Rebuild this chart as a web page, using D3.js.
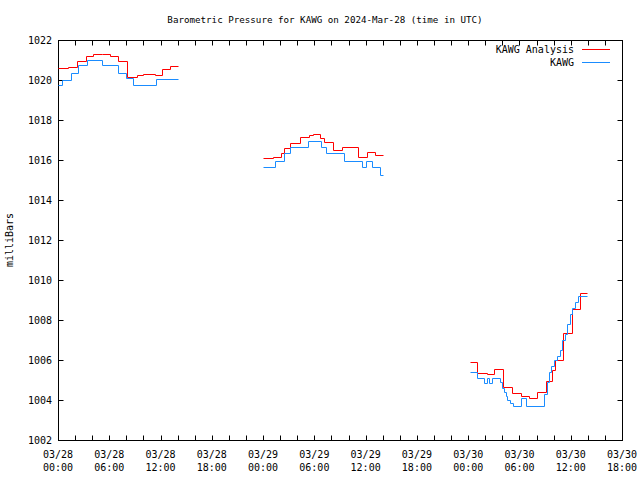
<!DOCTYPE html>
<html>
<head>
<meta charset="utf-8">
<script src="https://cdn.jsdelivr.net/npm/d3@7"></script>
<style>
  body { margin: 0; background: #fff; }
  text { font-family: "DejaVu Sans Mono", monospace; font-size: 10px; fill: #000; }
</style>
</head>
<body>
<div id="container"></div>
<script>
// hours since 03/28 00:00 UTC, pressure in mb
const analysisSegs = [
  [[0,1020.6],[1.2,1020.65],[2.2,1020.95],[3.3,1021.2],[4.1,1021.3],[5.1,1021.28],[6.1,1021.2],[7,1020.95],
   [8.1,1020.15],[9.2,1020.23],[10,1020.3],[11.4,1020.27],[12.2,1020.55],[13.1,1020.7],[14,1020.7]],
  [[24,1016.08],[25.2,1016.17],[26.1,1016.37],[26.5,1016.58],[27.2,1016.83],[28.3,1017.17],[29.4,1017.25],[29.8,1017.28],
   [30.7,1017.12],[31.1,1016.92],[32.2,1016.5],[33.2,1016.63],[35.1,1016.13],[36.2,1016.38],[37.1,1016.25],[38,1016.25]],
  [[48.2,1005.9],[49.0,1005.35],[50.2,1005.3],[51.0,1005.55],[52.1,1004.65],[53.1,1004.35],[54.2,1004.2],[55.1,1004.1],
   [56.1,1004.4],[57.1,1004.95],[57.8,1005.5],[58.2,1006.0],[59.1,1007.35],[60.2,1008.55],[61.1,1009.35],[61.9,1009.35]]
];
const observedSegs = [
  [[0,1019.75],[0.5,1020.0],[1.5,1020.35],[2.3,1020.75],[3.4,1021.0],[5.2,1020.75],[7.0,1020.35],[8.0,1020.1],
   [8.8,1019.75],[11.5,1020.05],[14,1020.05]],
  [[24,1015.63],[25.4,1015.95],[26.4,1016.33],[27.2,1016.63],[29.3,1016.95],[30.8,1016.63],[31.4,1016.33],[33.5,1015.95],
   [35.6,1015.67],[36.0,1015.95],[36.8,1015.63],[37.7,1015.25],[38,1015.25]],
  [[48.2,1005.38],[49.0,1005.08],[49.85,1004.85],[50.2,1005.1],[50.4,1004.85],[50.8,1005.08],[51.7,1004.9],[51.9,1004.6],
   [52.2,1004.4],[52.4,1004.2],[52.6,1004.0],[52.9,1003.85],[53.2,1003.7],[54.2,1004.08],[54.8,1003.7],[56.9,1004.3],
   [57.2,1004.9],[57.4,1005.4],[57.7,1005.7],[58.0,1006.0],[58.4,1006.2],[58.8,1006.5],[59.0,1007.0],[59.3,1007.3],
   [59.6,1007.8],[59.9,1008.3],[60.2,1008.6],[60.5,1008.9],[60.8,1009.2],[61.9,1009.2]]
];
const xTickHours = [0, 6, 12, 18, 24, 30, 36, 42, 48, 54, 60, 66];
const xTickDates = ['03/28','03/28','03/28','03/28','03/29','03/29','03/29','03/29','03/30','03/30','03/30','03/30'];
const xTickTimes = ['00:00','06:00','12:00','18:00','00:00','06:00','12:00','18:00','00:00','06:00','12:00','18:00'];
const yTicks = [1002, 1004, 1006, 1008, 1010, 1012, 1014, 1016, 1018, 1020, 1022];
const seriesNames = ['KAWG Analysis', 'KAWG'];
const seriesColors = ['#ff0000', '#1a8cff'];

const width = 640, height = 480;
const margin = {top: 40, right: 18, bottom: 40, left: 58};

const svg = d3.select('#container').append('svg')
  .attr('width', width).attr('height', height);

const x = d3.scaleLinear().domain([0, 66]).range([margin.left, width - margin.right]);
const y = d3.scaleLinear().domain([1002, 1022]).range([height - margin.bottom, margin.top]);
// snap to pixel centres so 1px lines stay solid
const px = v => Math.round(v) + 0.5;

// ticks (inward, mirrored)
const tickLen = 5;
const minorHours = d3.range(0, 67, 2);
const tg = svg.append('g').attr('stroke', '#000');
minorHours.forEach(h => {
  tg.append('line').attr('x1', px(x(h))).attr('x2', px(x(h))).attr('y1', px(y(1002))).attr('y2', px(y(1002)) - tickLen);
  tg.append('line').attr('x1', px(x(h))).attr('x2', px(x(h))).attr('y1', px(y(1022))).attr('y2', px(y(1022)) + tickLen);
});
yTicks.forEach(v => {
  tg.append('line').attr('x1', px(x(0))).attr('x2', px(x(0)) + tickLen).attr('y1', px(y(v))).attr('y2', px(y(v)));
  tg.append('line').attr('x1', px(x(66))).attr('x2', px(x(66)) - tickLen).attr('y1', px(y(v))).attr('y2', px(y(v)));
});

// frame
svg.append('rect')
  .attr('x', px(x(0))).attr('y', px(y(1022)))
  .attr('width', Math.round(x(66) - x(0))).attr('height', Math.round(y(1002) - y(1022)))
  .attr('fill', 'none').attr('stroke', '#000');

// y labels
svg.append('g').selectAll('text').data(yTicks).enter().append('text')
  .attr('x', x(0) - 6).attr('y', d => y(d)).attr('dy', '0.35em')
  .attr('text-anchor', 'end').text(d => d);

// x labels
xTickHours.forEach((h, i) => {
  svg.append('text').attr('x', x(h)).attr('y', 458).attr('text-anchor', 'middle').text(xTickDates[i]);
  svg.append('text').attr('x', x(h)).attr('y', 471).attr('text-anchor', 'middle').text(xTickTimes[i]);
});

// titles
svg.append('text').attr('x', 325).attr('y', 23).attr('text-anchor', 'middle')
  .style('font-size', '9.2px')
  .text('Barometric Pressure for KAWG on 2024-Mar-28 (time in UTC)');
svg.append('text').attr('transform', 'translate(13,240) rotate(-90)').attr('text-anchor', 'middle')
  .text('milliBars');

// series
const line = d3.line().x(d => px(x(d[0]))).y(d => px(y(d[1]))).curve(d3.curveStepAfter);
[analysisSegs, observedSegs].forEach((segs, k) => {
  svg.append('g').selectAll('path').data(segs).enter().append('path')
    .attr('d', line).attr('fill', 'none')
    .attr('stroke', seriesColors[k]).attr('stroke-width', 1);
});

// legend
seriesNames.forEach((name, k) => {
  const ly = 49 + k * 13;
  svg.append('text').attr('x', 574).attr('y', ly).attr('dy', '0.35em').attr('text-anchor', 'end').text(name);
  svg.append('line').attr('x1', 582).attr('x2', 610).attr('y1', ly + 0.5).attr('y2', ly + 0.5)
    .attr('stroke', seriesColors[k]).attr('stroke-width', 1);
});
</script>
</body>
</html>
